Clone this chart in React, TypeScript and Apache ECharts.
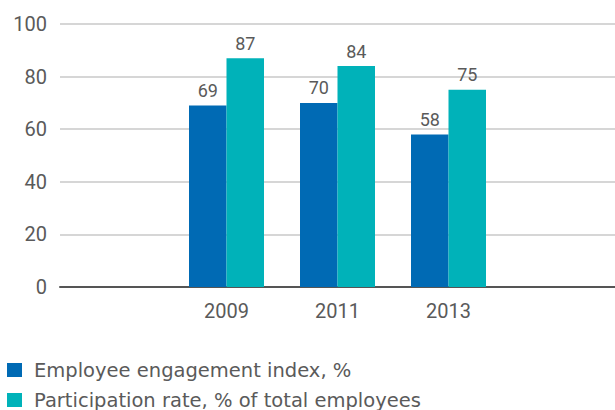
import React, { useEffect, useRef } from "react";
import * as echarts from "echarts";

const categories = ["", "2009", "2011", "2013", ""];
const engagementIndex = [null, 69, 70, 58, null];
const participationRate = [null, 87, 84, 75, null];
const seriesNames = ["Employee engagement index, %", "Participation rate, % of total employees"];
const yTicks = { min: 0, max: 100, interval: 20 };

const FONT = "Roboto, 'Noto Sans', sans-serif";
const LEGEND_FONT = "'DejaVu Sans', sans-serif";
const TEXT = "#5a5a5a";

export default function App() {
  const ref = useRef<HTMLDivElement>(null);
  useEffect(() => {
    if (!ref.current) return;
    const chart = echarts.init(ref.current, undefined, { renderer: "svg" });
    const legendBase = {
      orient: "horizontal",
      left: 7,
      padding: 0,
      itemWidth: 15,
      itemHeight: 14,
      icon: "rect",
      textStyle: { fontFamily: LEGEND_FONT, fontSize: 19.5, lineHeight: 20, color: TEXT, padding: [0, 0, 0, 7] },
    };
    chart.setOption({
      animation: false,
      textStyle: { fontFamily: FONT },
      grid: { left: 60, right: -5, top: 24, bottom: 123, containLabel: false },
      legend: [
        { ...legendBase, top: 360, data: [seriesNames[0]] },
        { ...legendBase, top: 390, data: [seriesNames[1]] },
      ],
      xAxis: {
        type: "category",
        data: categories,
        axisTick: { show: false },
        axisLine: { lineStyle: { color: "#555555", width: 2 } },
        axisLabel: { fontFamily: FONT, fontSize: 20, color: TEXT, margin: 14 },
      },
      yAxis: {
        type: "value",
        min: yTicks.min,
        max: yTicks.max,
        interval: yTicks.interval,
        axisLine: { show: false },
        axisTick: { show: false },
        splitLine: { lineStyle: { color: "#c8c8c8", width: 1.5 } },
        axisLabel: { fontFamily: FONT, fontSize: 20, color: TEXT, margin: 13 },
      },
      series: [
        {
          name: seriesNames[0],
          type: "bar",
          data: engagementIndex,
          barWidth: 37.5,
          barGap: "0%",
          itemStyle: { color: "#006ab4" },
          label: { show: true, position: "top", distance: 6, fontFamily: FONT, fontSize: 18, color: TEXT },
        },
        {
          name: seriesNames[1],
          type: "bar",
          data: participationRate,
          barWidth: 37.5,
          barGap: "0%",
          itemStyle: { color: "#00b2b9" },
          label: { show: true, position: "top", distance: 6, fontFamily: FONT, fontSize: 18, color: TEXT },
        },
      ],
    });
    return () => chart.dispose();
  }, []);
  return <div ref={ref} style={{ position: "absolute", left: 0, top: 0, width: 615, height: 410 }} />;
}
